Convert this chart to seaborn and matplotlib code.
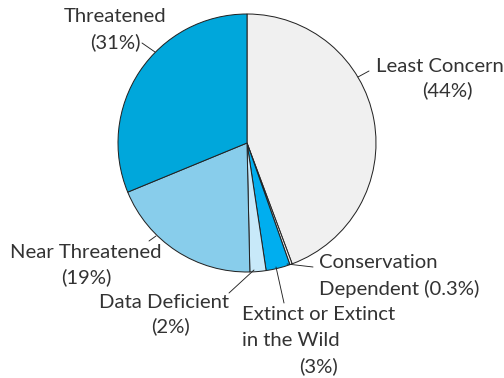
import matplotlib
matplotlib.use("Agg")
import matplotlib.pyplot as plt
import seaborn as sns

categories = ["Least Concern", "Conservation Dependent", "Extinct or Extinct in the Wild",
              "Data Deficient", "Near Threatened", "Threatened"]
values = [44, 0.3, 3, 2, 19, 31]
colors = ["#f0f0f0", "#f0f0f0", "#00aeef", "#c8e9f9", "#88cdeb", "#00a7db"]

sns.set_style("white")
plt.rcParams['font.family'] = ['Lato', 'DejaVu Sans']

W, H = 504, 378
fig = plt.figure(figsize=(7, 5.25), dpi=72)
ax = fig.add_axes([0, 0, 1, 1])

cx, cy, r = 247, H - 143, 129
ax.pie(values, colors=colors, startangle=90, counterclock=False,
       center=(cx, cy), radius=r, frame=True,
       wedgeprops=dict(edgecolor="#222222", linewidth=1.0))
ax.set_xlim(0, W)
ax.set_ylim(0, H)
ax.set_aspect("equal")
ax.axis("off")

tc = "#333333"
lc = "#222222"
fs = 20.3
def Y(y):
    return H - y

# Least Concern
ax.text(376, Y(67), "Least Concern", ha="left", va="center", fontsize=fs, color=tc)
ax.text(447, Y(90), "(44%)", ha="center", va="center", fontsize=fs, color=tc)
ax.plot([369, 358], [Y(71), Y(77)], color=lc, lw=0.9)
# Conservation Dependent
ax.text(319, Y(263), "Conservation", ha="left", va="center", fontsize=fs, color=tc)
ax.text(319, Y(289), "Dependent (0.3%)", ha="left", va="center", fontsize=fs, color=tc)
ax.plot([287, 313], [Y(264), Y(267)], color=lc, lw=0.9)
# Extinct
ax.text(242, Y(315), "Extinct or Extinct", ha="left", va="center", fontsize=fs, color=tc)
ax.text(242, Y(341), "in the Wild", ha="left", va="center", fontsize=fs, color=tc)
ax.text(318, Y(366), "(3%)", ha="center", va="center", fontsize=fs, color=tc)
ax.plot([276, 284], [Y(267), Y(303)], color=lc, lw=0.9)
# Data Deficient
ax.text(229, Y(302), "Data Deficient", ha="right", va="center", fontsize=fs, color=tc)
ax.text(170, Y(326), "(2%)", ha="center", va="center", fontsize=fs, color=tc)
ax.plot([229, 254], [Y(293), Y(270)], color=lc, lw=0.9)
# Near Threatened
ax.text(10, Y(252), "Near Threatened", ha="left", va="center", fontsize=fs, color=tc)
ax.text(86, Y(277), "(19%)", ha="center", va="center", fontsize=fs, color=tc)
ax.plot([149, 156], [Y(241), Y(236)], color=lc, lw=0.9)
# Threatened
ax.text(115, Y(17), "Threatened", ha="center", va="center", fontsize=fs, color=tc)
ax.text(115, Y(42), "(31%)", ha="center", va="center", fontsize=fs, color=tc)
ax.plot([142, 155], [Y(43), Y(52)], color=lc, lw=0.9)

fig.savefig("out.png", dpi=72, facecolor="white")
